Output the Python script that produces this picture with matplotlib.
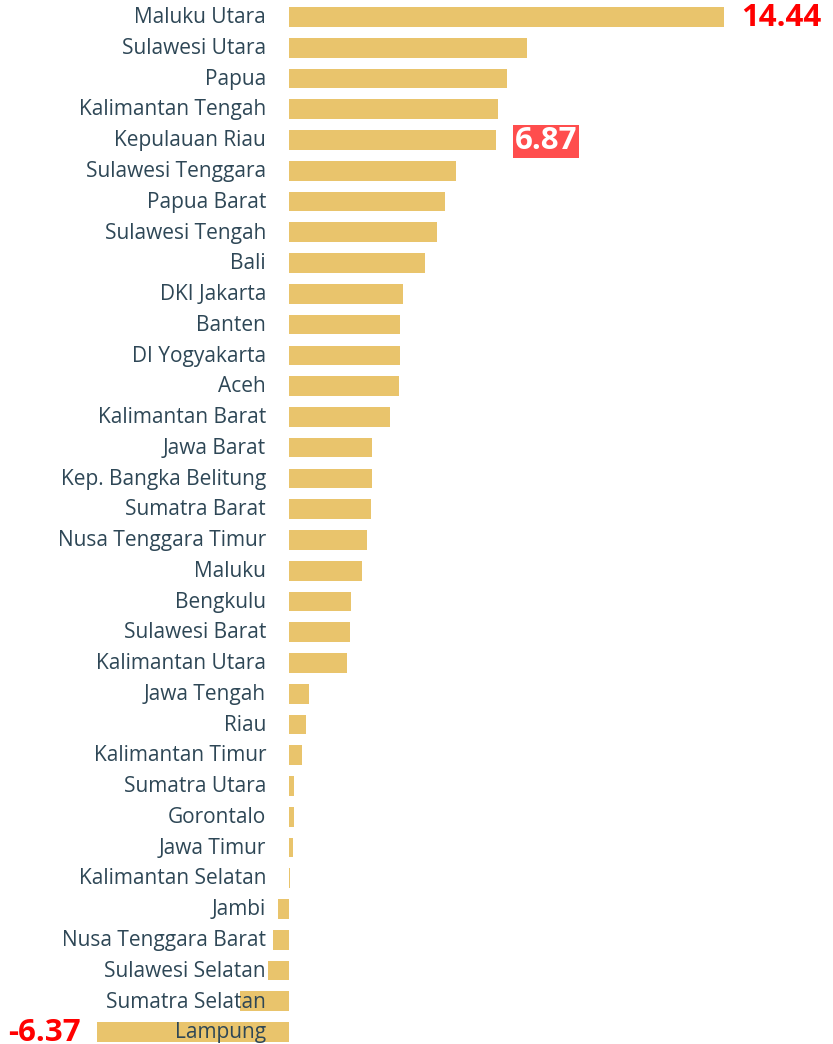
import matplotlib
matplotlib.use("Agg")
import matplotlib.pyplot as plt

provinces = [
    "Maluku Utara", "Sulawesi Utara", "Papua", "Kalimantan Tengah", "Kepulauan Riau",
    "Sulawesi Tenggara", "Papua Barat", "Sulawesi Tengah", "Bali", "DKI Jakarta",
    "Banten", "DI Yogyakarta", "Aceh", "Kalimantan Barat", "Jawa Barat",
    "Kep. Bangka Belitung", "Sumatra Barat", "Nusa Tenggara Timur", "Maluku", "Bengkulu",
    "Sulawesi Barat", "Kalimantan Utara", "Jawa Tengah", "Riau", "Kalimantan Timur",
    "Sumatra Utara", "Gorontalo", "Jawa Timur", "Kalimantan Selatan", "Jambi",
    "Nusa Tenggara Barat", "Sulawesi Selatan", "Sumatra Selatan", "Lampung",
]
growth = [
    14.44, 7.90, 7.24, 6.94, 6.87,
    5.54, 5.18, 4.91, 4.52, 3.78,
    3.69, 3.68, 3.65, 3.35, 2.76,
    2.75, 2.72, 2.59, 2.42, 2.06,
    2.03, 1.93, 0.66, 0.56, 0.44,
    0.18, 0.16, 0.13, 0.02, -0.38,
    -0.53, -0.70, -1.63, -6.37,
]

bar_color = "#E9C46C"
text_color = "#2E4756"
red = "#FF0000"
num_font = ["Open Sans", "DejaVu Sans"]

fig = plt.figure(figsize=(8.33, 10.44), dpi=100)
ax = fig.add_axes([0, 0, 1, 1])

pos = list(range(len(provinces)))
ax.barh(pos, growth, height=0.64, color=bar_color, zorder=1)

# province names, right-aligned just left of zero
for i, name in enumerate(provinces):
    ax.annotate(name, xy=(0, i), xytext=(-16.5, -0.5), textcoords="offset points",
                ha="right", va="center", fontsize=15, color=text_color,
                family=["Open Sans", "DejaVu Sans"], zorder=3)

# highlighted values
imax = growth.index(max(growth))
imin = growth.index(min(growth))
ax.annotate(f"{growth[imax]:.2f}", xy=(growth[imax], imax), xytext=(12.5, -0.5),
            textcoords="offset points", ha="left", va="center",
            fontsize=22.5, fontweight="bold", color=red, family=num_font)
ax.annotate(f"{growth[imin]:.2f}", xy=(growth[imin], imin), xytext=(-12, -1),
            textcoords="offset points", ha="right", va="center",
            fontsize=22.5, fontweight="bold", color=red, family=num_font)

ikr = provinces.index("Kepulauan Riau")
ax.annotate(f"{growth[ikr]:.2f}", xy=(growth[ikr], ikr), xytext=(13.5, -1),
            textcoords="offset points", ha="left", va="center",
            fontsize=22.5, fontweight="bold", color="white", family=num_font,
            bbox=dict(boxstyle="square,pad=0.06", facecolor="#FF4D4D", edgecolor="none"))

px = 30.12
ax.set_xlim(-289 / px, (833 - 289) / px)
ax.set_ylim((1044 - 17) / 30.76, -17 / 30.76)
ax.axis("off")

fig.savefig("out.png", dpi=100)
